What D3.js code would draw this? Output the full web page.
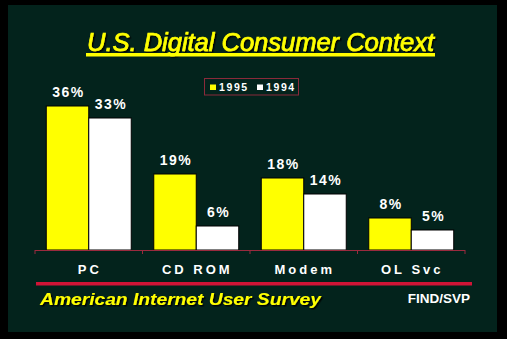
<!DOCTYPE html>
<html><head><meta charset="utf-8">
<script src="https://cdn.jsdelivr.net/npm/d3@7"></script>
<style>html,body{margin:0;padding:0;background:#000;}svg{display:block;}</style>
</head><body>
<script>
const categories = ["PC", "CD ROM", "Modem", "OL Svc"];
const seriesNames = ["1995", "1994"];
const values1995 = [36, 19, 18, 8];
const values1994 = [33, 6, 14, 5];
const seriesColors = ["#ffff00", "#ffffff"];

const W = 507, H = 339;
const svg = d3.select("body").append("svg").attr("width", W).attr("height", H);
const defs = svg.append("defs");
const f = defs.append("filter").attr("id","sh").attr("x","-5%").attr("y","-20%").attr("width","110%").attr("height","140%");
f.append("feDropShadow").attr("dx",1.5).attr("dy",1.5).attr("stdDeviation",0.3).attr("flood-color","#000").attr("flood-opacity",0.9);

svg.append("rect").attr("width", W).attr("height", H).attr("fill", "#000");
svg.append("rect").attr("x", 8).attr("y", 5).attr("width", 489).attr("height", 327).attr("fill", "#03231c");

const font = "'Liberation Sans', Arial, Helvetica, sans-serif";

// Title
svg.append("text").attr("x", 87).attr("y", 51)
  .attr("font-family", font).attr("font-weight", "normal").attr("font-style", "italic")
  .attr("font-size", 25.5).attr("fill", "#ffff00").attr("stroke", "#ffff00").attr("stroke-width", 0.7)
  .attr("filter","url(#sh)")
  .attr("textLength", 347).attr("lengthAdjust", "spacingAndGlyphs")
  .text("U.S. Digital Consumer Context");
svg.append("rect").attr("x", 86).attr("y", 53).attr("width", 349).attr("height", 3.5).attr("fill", "#ffff00");

const x = d3.scaleBand().domain(categories).range([35, 465]).padding(0);
const xs = d3.scaleBand().domain(seriesNames).range([0, x.bandwidth()]).paddingInner(0).paddingOuter(0.265);
const y = d3.scaleLinear().domain([0, 36]).range([250, 106]);

const data = categories.map((c, i) => ({c, vals: [values1995[i], values1994[i]]}));

const g = svg.append("g");
data.forEach(d => {
  d.vals.forEach((v, j) => {
    const bx = x(d.c) + xs(seriesNames[j]);
    g.append("rect").attr("x", bx).attr("y", y(v)).attr("width", xs.bandwidth()).attr("height", y(0) - y(v))
      .attr("fill", seriesColors[j]).attr("stroke", "#000").attr("stroke-width", 1);
    g.append("text").attr("x", bx + xs.bandwidth() / 2 + 1).attr("y", y(v) - 9)
      .attr("text-anchor", "middle").attr("font-family", font).attr("font-weight", "bold")
      .attr("font-size", 14).attr("letter-spacing", 1.5).attr("fill", "#fff")
      .text(v + "%");
  });
});

// axis
const axisColor = "#9a2a3e";
svg.append("line").attr("x1", 35).attr("x2", 465).attr("y1", 250.5).attr("y2", 250.5).attr("stroke", axisColor).attr("stroke-width", 1);
const tickXs = categories.map(c => x(c)).concat([x.range()[1]]);
tickXs.forEach(t => {
  svg.append("line").attr("x1", t).attr("x2", t).attr("y1", 250).attr("y2", 254).attr("stroke", axisColor).attr("stroke-width", 1);
});
categories.forEach(c => {
  svg.append("text").attr("x", x(c) + x.bandwidth() / 2 + 1).attr("y", 274).attr("text-anchor", "middle")
    .attr("font-family", font).attr("font-weight", "bold").attr("font-size", 13).attr("letter-spacing", 3)
    .attr("fill", "#fff").text(c);
});

// legend
const lg = svg.append("g");
lg.append("rect").attr("x", 204.5).attr("y", 78.5).attr("width", 94).attr("height", 16.5)
  .attr("fill", "none").attr("stroke", "#8a2a3a").attr("stroke-width", 1);
const legX = [210, 257];
seriesNames.forEach((s, j) => {
  lg.append("rect").attr("x", legX[j]).attr("y", 84.5).attr("width", 6).attr("height", 5.5).attr("fill", seriesColors[j]);
  lg.append("text").attr("x", legX[j] + 9).attr("y", 91).attr("font-family", font).attr("font-weight", "bold")
    .attr("font-size", 10.5).attr("letter-spacing", 1.6).attr("fill", "#fff").text(s);
});

// red rule
svg.append("rect").attr("x", 36).attr("y", 282).attr("width", 436).attr("height", 3.5).attr("fill", "#d01436");

svg.append("text").attr("x", 40).attr("y", 305).attr("font-family", font).attr("font-weight", "bold")
  .attr("font-style", "italic").attr("font-size", 17).attr("fill", "#ffff00").attr("filter","url(#sh)")
  .attr("textLength", 281).attr("lengthAdjust", "spacingAndGlyphs")
  .text("American Internet User Survey");
svg.append("text").attr("x", 470).attr("y", 302.5).attr("text-anchor", "end").attr("font-family", font)
  .attr("font-weight", "bold").attr("font-size", 13.5).attr("fill", "#fff").text("FIND/SVP");
</script>
</body></html>
